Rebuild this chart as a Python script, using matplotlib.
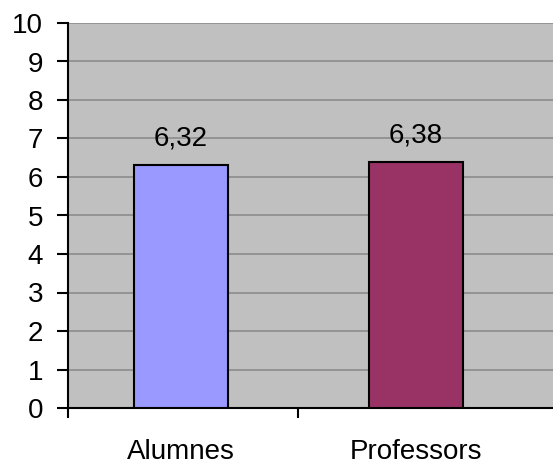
import matplotlib.pyplot as plt

categories = ["Alumnes", "Professors"]
values = [6.32, 6.38]
value_labels = ["6,32", "6,38"]
bar_colors = ["#9999FF", "#993366"]

plt.rcParams['font.family'] = ['Liberation Sans', 'DejaVu Sans']

fig = plt.figure(figsize=(5.53, 4.65), dpi=100)
W, H = 553, 465
ax = fig.add_axes([68 / W, (H - 408) / H, (570 - 68) / W, (408 - 23) / H])
ax.set_facecolor("#C0C0C0")

x = list(range(len(categories)))
ax.bar(x, values, width=0.4, color=bar_colors, edgecolor="black", linewidth=1.5, zorder=3)
for xi, v, lab in zip(x, values, value_labels):
    ax.annotate(lab, (xi, v), xytext=(0, 14), textcoords="offset points",
                ha="center", va="baseline", fontsize=20, zorder=4)

ax.set_xlim(-0.48, -0.48 + (570 - 68) / 235)
ax.set_ylim(0, 10)
ax.set_yticks(range(0, 11))
ax.tick_params(axis="y", labelsize=20, length=8, width=1.5, direction="out", pad=10)
ax.yaxis.grid(True, color="#8c8c8c", linewidth=1.2, zorder=0)
ax.set_axisbelow(True)

# category boundaries as major ticks, names as minor ticks
ax.set_xticks([-0.48, 0.5])
ax.set_xticklabels(["", ""])
ax.tick_params(axis="x", which="major", length=7, width=1.5, direction="out")
ax.set_xticks(x, minor=True)
ax.set_xticklabels(categories, minor=True)
ax.tick_params(axis="x", which="minor", length=0, labelsize=20, pad=22)

for s in ["top", "right"]:
    ax.spines[s].set_visible(False)
ax.spines["left"].set_linewidth(1.5)
ax.spines["bottom"].set_linewidth(1.5)

fig.savefig("out.png", dpi=100)
